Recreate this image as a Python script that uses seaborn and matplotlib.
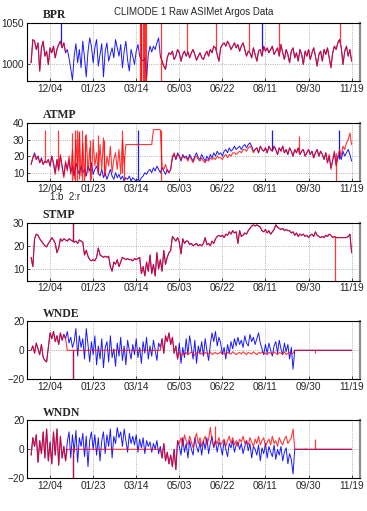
import numpy as np
import pandas as pd
import matplotlib
matplotlib.use('Agg')
import matplotlib.pyplot as plt
import matplotlib.dates as mdates
import seaborn as sns

# 2-day samples, 2005-11-12 .. 2006-11-19 (187 values)
dates = pd.date_range('2005-11-12', '2006-11-19', freq='2D')
nan = np.nan

bpr_blue = [
    1002, 1030, 1028, 1018, 1026, 992, 1020, 1028, 1010, 1016,
    1000, 1020, 1014, 1022, 1008, 1018, 1024, 1028, 1020, 1026,
    1014, 1018, 1008, 995, 981, 1010, 1025, 1002, 1018, 996,
    1028, 1008, 985, 1015, 1032, 1022, 1002, 1020, 1030, 998,
    1012, 1025, 985, 1016, 1026, 1004, 1012, 1020, 1008, 1030,
    1020, 1010, 1024, 996, 1016, 1028, 1005, 992, 1018, 1010,
    1000, 1016, 1024, 1010, 1006, 1004, 1008, 983, 1012, 1022,
    1015, 1022, 1018, 1026, 1032, 1010, 1004, 998, 994, 1008,
    1014, 1012, 1016, 1006, 1010, 1018, 1014, 1004, 1012, 1016,
    1010, 1015, 1008, 1014, 1018, 1012, 1005, 1010, 1014, 1008,
    1006, 1012, 1016, 1010, 1018, 1014, 1022, 1020, 1012, 1004,
    1020, 1024, 1026, 1022, 1028, 1024, 1018, 1022, 1026, 1020,
    1024, 1016, 1022, 1026, 1018, 1010, 1016, 1014, 1008, 1020,
    1012, 1004, 1016, 1018, 1010, 1022, 1016, 1020, 1014, 1018,
    1022, 1012, 1016, 1020, 1010, 1024, 1014, 1006, 1018, 1012,
    1002, 1016, 1020, 1008, 1014, 1004, 1018, 1012, 1000, 1016,
    1010, 1018, 1006, 1014, 1020, 1010, 998, 1012, 1016, 1004,
    1018, 1012, 1020, 1008, 996, 1014, 1022, 1018, 1026, 1030,
    1020, 1000, 1016, 1022, 1010, 1018, 1004,
]
# red BPR has no data between these dates
bpr_red_gap = ('2005-12-23', '2006-04-10')

atmp_blue = [
    15, 19, 22, 18, 20, 16, 19, 15, 17, 16,
    18, 14, 20, 16, 10, 18, 12, 20, 14, 8,
    16, 12, 18, 10, 14, 8, 16, 12, 9, 14,
    10, 12, 8, 14, 11, 16, 9, 12, 14, 10,
    8, 12, 7, 10, 6, 9, 12, 8, 6, 10,
    7, 9, 6, 8, 5, 7, 6, 8, 5, 7,
    6, 5, 6, 5, 7, 8, 10, 9, 11, 12,
    10, 13, 11, 14, 12, 10, 13, 11, 9, 12,
    10, 12, 19, 21, 18, 22, 20, 17, 21, 19,
    20, 18, 21, 19, 17, 20, 22, 19, 18, 21,
    19, 17, 20, 18, 21, 19, 22, 20, 23, 21,
    22, 20, 23, 24, 22, 25, 23, 24, 26, 24,
    25, 26, 24, 26, 27, 25, 27, 28, 26, 23,
    24, 25, 22, 26, 24, 23, 25, 22, 26, 24,
    23, 26, 24, 21, 25, 23, 26, 22, 24, 21,
    25, 23, 20, 24, 22, 25, 21, 23, 24, 20,
    22, 24, 21, 23, 19, 22, 24, 20, 23, 21,
    18, 22, 16, 20, 13, 17, 22, 15, 19, 21,
    18, 23, 20, 22, 24, 21, 17,
]
atmp_red = [
    15, 19, 21, 18, 20, 16, 18, 15, 17, 16,
    18, 14, 20, 15, 9, 18, 11, 21, 13, 7,
    17, 11, 20, 9, 24, 6, 30, 12, 34, 8,
    28, 5, 33, 10, 25, 6, 30, 14, 22, 9,
    27, 12, 31, 8, 20, 14, 26, 10, 18, 22,
    12, 24, 9, 30, 15, 27, 27, 27, 27, 27,
    27, 27, 27, 27, 27, 27, 27, 27, 27, 27,
    27, 36, 36, 36, 36, 36, 14, 12, 15, 11,
    10, 12, 20, 22, 18, 21, 20, 18, 20, 19,
    19, 17, 20, 18, 16, 19, 20, 18, 17, 19,
    17, 16, 18, 17, 19, 18, 19, 18, 20, 19,
    19, 18, 20, 21, 19, 21, 20, 22, 22, 21,
    22, 23, 22, 24, 24, 23, 25, 26, 25, 22,
    24, 25, 22, 26, 24, 23, 25, 22, 26, 24,
    23, 26, 24, 21, 25, 23, 26, 22, 24, 21,
    25, 23, 20, 24, 22, 25, 21, 23, 24, 20,
    22, 24, 21, 23, 19, 22, 24, 20, 23, 21,
    18, 22, 16, 21, 12, 18, 23, 14, 20, 24,
    20, 26, 24, 28, 30, 34, 27,
]

stmp_values = [
    15, 11, 23, 25, 24.5, 23, 22, 21, 20, 19.5,
    21, 22, 23.5, 22.5, 21, 17, 19, 23, 22, 23,
    22.5, 22, 23, 22.5, 22, 21.5, 22, 21, 22.5, 22,
    21.5, 16, 18, 15.5, 14, 13.5, 14, 13.5, 15, 19,
    16, 15.5, 15, 15.5, 15, 15.5, 11, 9, 13, 12,
    14, 11, 13, 15, 14.5, 14, 14.5, 14, 14, 13.5,
    14.5, 14, 14.5, 15, 8, 11, 7, 13, 9, 16,
    8, 12, 7, 17, 10, 14, 9, 18, 12, 15,
    17, 18, 24, 23, 22, 23.5, 21.5, 16.5, 23, 21,
    22, 22, 20.5, 21, 20, 20.5, 21, 20, 20.5, 20,
    21, 23.5, 20.5, 21, 20, 22, 21, 23, 24, 24.5,
    24, 24.5, 23.5, 25, 24.5, 26, 25, 26.5, 25.5, 26,
    21, 26.5, 24, 24.5, 25.5, 25, 26.5, 27.5, 28.5, 29,
    28.5, 29, 28.5, 28, 26.5, 26, 27, 25.5, 26.5, 25,
    26, 27, 29, 28, 27.5, 27, 27.5, 26.5, 27, 26.5,
    26.5, 25.5, 26, 24.5, 25.5, 24, 25, 24.5, 25, 24,
    24.5, 23.5, 24.5, 25, 24, 26, 24.5, 24, 23.5, 24,
    23.5, 24.5, 24, 25, 24.5, 23.5, 24, 23.5, 23.5, 23.5,
    23.5, 23.5, 23.5, 23.5, 24, 25, 17,
]

wnde_blue = [
    0, 3, -2, 5, 1, -3, 4, -5, -7, -8,
    2, 12, 8, 13, 6, 10, 4, 12, 7, 11,
    8, 13, 5, 9, 2, 6, 15, -4, 10, 2,
    8, -6, 15, 4, -8, 6, -3, 10, -10, 3,
    -6, 8, -12, 2, 6, -8, 10, -5, 1, -11,
    5, -4, 9, -7, 3, -10, 7, 0, -6, 4,
    -3, 8, -5, 2, -9, 6, -2, 9, -6, 3,
    -4, 7, 0, -7, 5, 2, 8, -2, 10, 6,
    12, 4, 9, -2, 3, -6, 5, -9, 2, -5,
    8, -3, 10, 2, -6, 7, -9, 3, -2, 6,
    -4, 8, 0, -7, 4, 12, 6, 13, 3, 9,
    5, -3, 2, -6, 4, -2, 6, 1, 8, 3,
    9, 4, 7, 2, 10, 5, 3, 11, 6, 9,
    4, 8, 12, 5, 1, -3, 4, -2, 5, 0,
    -4, 3, 6, -2, 7, 1, -3, 5, -1, 4,
    -6, 2, -13, 0, 0, 0, 0, 0, 0, 0,
] + [0] * 27
wnde_red = [
    0, 3, -2, 5, 1, -3, 4, -5, -7, -8,
    2, 12, 8, 13, 6, 10, 4, 12, 7, 11,
    8,
] + [0] * 55 + [
    8, -2, 10, 6,
    12, 4, 9, -2, 3, -6, -1, -4, -2, -3,
    -1.5, -3, -2, -1, -2.5, -3.5, -2, -1, -2.5, -2,
    -3, -1.5, -2, -2.5, -1, -3, -2, -1.5, -2.5, -2,
    -1, -2.5, -2, -3, -1.5, -2, -2.5, -1, -2, -3,
    -2, -1.5, -2.5, -1, -2, -3, -1.5, -2, -2.5, -1,
    -2, -3, -1.5, -2, -1, -2.5, -2, -3, -1.5, -2,
    -2.5, -1, -2, -3, -1.5, -2, -2.5, -1, -3, -2,
    -1.5, -2.5, -2,
] + [0] * 34

wndn_blue = [
    -4, 8, 2, 10, -9, 6, -3, 12, -6, 14,
    -8, 5, -10, 12, -4, 14, -11, 9, -6, 2,
    -8, 5, 12, -6, 10, -2, 13, -9, 8, 2,
    11, -5, 9, -12, 6, 12, 0, 10, -4, 8,
    -8, 6, 12, -3, 10, 2, 14, -6, 9, 4,
    15, 8, 12, 2, 14, 6, -2, 11, 4, 9,
    3, 10, -2, 7, 1, 8, -3, 6, 2, 5,
    -2, 4, 0, 6, -3, 2, -6, 4, -8, -2,
    -10, -4, -12, 0, -14, 6, 2, -4, 8, -2,
    4, -6, 6, 0, -4, 8, 2, -2, 5, -4,
    6, 0, 8, -3, 4, 9, 1, 6, -2, 5,
    2, -4, 6, 0, -5, 4, 1, 6, -2, 3,
    5, 0, 4, -3, 2, 6, -1, 4, -6, 2,
    0, -4, 3, -8, 1, -3, 4, -6, 2, -2,
    -5, 3, -7, 0, -4, 2, -8, -2, 1, -10,
    -3, -7, -17,
] + [0] * 34
wndn_red = [
    -4, 8, 2, 10, -9, 6, -3, 12, -6, 14,
    -8, 5, -10, 12, -4, 14, -11, 9, -6, 2,
    -8,
] + [0] * 55 + [
    -6, 4, -8, -2,
    -10, -4, -12, 0, -14, 6, 4, 8, 2, 10,
    6, 3, 9, 5, 1, 7, 11, 4, 8, 2,
    6, 9, 3, 7, 15, 5, 2, 6, 4, 8,
    3, 5, 7, 2, 6, 9, 4, 8, 3, 6,
    2, 7, 5, 9, 4, 6, 3, 8, 5, 2,
    7, 4, 9, 3, 6, 8, 2, 5, 7, 3,
    9, 4, 6, 2, 8, 5, 3, 7, 9, 4,
    6, 8, 14,
] + [0] * 34

# short spikes: (date, low, high)
bpr_blue_spikes = [('2005-12-17', 1024, 1050), ('2006-08-07', 1018, 1050)]
bpr_red_spikes = [('2006-03-18', 980, 1050), ('2006-03-19', 980, 1050), ('2006-03-20', 980, 1050),
                  ('2006-03-22', 980, 1050), ('2006-03-23', 980, 1050), ('2006-03-24', 980, 1050),
                  ('2006-03-25', 980, 1050), ('2006-04-12', 980, 1050), ('2006-05-12', 1014, 1050),
                  ('2006-06-15', 1018, 1050), ('2006-07-23', 1016, 1050), ('2006-08-27', 1016, 1050),
                  ('2006-11-06', 1026, 1050)]
atmp_blue_spikes = [('2006-03-16', 6, 36), ('2006-08-19', 24, 36), ('2006-11-04', 18, 36)]
atmp_red_spikes = [('2005-11-28', 17, 36), ('2005-12-13', 14, 36), ('2005-12-30', 5, 34),
                   ('2006-01-02', 5, 36), ('2006-01-04', 5, 36), ('2006-01-07', 6, 35),
                   ('2006-01-10', 5, 36), ('2006-01-14', 8, 33), ('2006-01-19', 5, 30),
                   ('2006-01-29', 10, 33), ('2006-02-05', 8, 30), ('2006-02-26', 10, 36),
                   ('2006-02-28', 5, 20), ('2006-04-12', 5, 36), ('2006-09-19', 22, 32),
                   ('2006-11-01', 5, 22)]
stmp_blue_spikes = [('2005-12-31', 22, 30)]
stmp_red_spikes = [('2005-12-31', 22, 30), ('2006-10-31', 5, 24)]
wnde_blue_spikes = [('2005-12-31', -20, 0)]
wnde_red_spikes = [('2005-12-31', -20, 0), ('2006-10-07', -2, 0)]
wndn_blue_spikes = [('2005-12-31', -20, 0)]
wndn_red_spikes = [('2005-12-31', -20, 0), ('2006-06-14', 5, 16), ('2006-09-26', 0, 1),
                   ('2006-10-07', 0, 7)]

x_ticks = pd.date_range('2005-12-04', periods=8, freq='50D')

sns.set_style('ticks')
plt.rcParams['font.family'] = ['Liberation Sans', 'DejaVu Sans']

BLUE = '#0000ff'
RED = '#ff0000'


def draw_series(ax, values, color, spikes, alpha, lw):
    df = pd.DataFrame({'date': dates, 'value': np.asarray(values, dtype=float)})
    df['seg'] = df['value'].isna().cumsum()
    df = df.dropna()
    sns.lineplot(data=df, x='date', y='value', units='seg', estimator=None,
                 color=color, lw=lw, alpha=alpha, ax=ax)
    if spikes:
        ax.vlines(pd.to_datetime([s[0] for s in spikes]), [s[1] for s in spikes],
                  [s[2] for s in spikes], color=color, lw=0.9, alpha=alpha)


bpr_red = pd.Series(bpr_blue, index=dates, dtype=float)
bpr_red[bpr_red_gap[0]:bpr_red_gap[1]] = nan

panels = [
    ('BPR', bpr_blue, bpr_red.values, bpr_blue_spikes, bpr_red_spikes, (980, 1050), [1000, 1050], 0.8415),
    ('ATMP', atmp_blue, atmp_red, atmp_blue_spikes, atmp_red_spikes, (5, 40), [10, 20, 30, 40], 0.6458),
    ('STMP', stmp_values, stmp_values, stmp_blue_spikes, stmp_red_spikes, (5, 30), [10, 20, 30], 0.4510),
    ('WNDE', wnde_blue, wnde_red, wnde_blue_spikes, wnde_red_spikes, (-20, 20), [-20, 0, 20], 0.2577),
    ('WNDN', wndn_blue, wndn_red, wndn_blue_spikes, wndn_red_spikes, (-20, 20), [-20, 0, 20], 0.0640),
]

fig = plt.figure(figsize=(3.67, 5.11), dpi=100)
for name, blue, red, bsp, rsp, ylim, yticks, bottom in panels:
    ax = fig.add_axes([0.0736, bottom, 0.907, 0.1135])
    draw_series(ax, blue, BLUE, bsp, 0.9, 0.7)
    draw_series(ax, red, RED, rsp, 0.78, 0.8)
    ax.set_xlim(pd.Timestamp('2005-11-07 06:00'), pd.Timestamp('2006-11-28 14:00'))
    ax.set_ylim(*ylim)
    ax.set_yticks(yticks)
    ax.set_xticks(x_ticks)
    ax.xaxis.set_major_formatter(mdates.DateFormatter('%m/%d'))
    ax.set_xlabel('')
    ax.set_ylabel('')
    ax.grid(True, linestyle=':', color='0.6', lw=0.6)
    ax.tick_params(direction='in', length=2, labelsize=7.3, pad=2, width=0.6)
    for side in ['left', 'top', 'bottom']:
        ax.spines[side].set_linewidth(0.8)
        ax.spines[side].set_color('black')
    ax.spines['right'].set_color('0.55')
    ax.spines['right'].set_linewidth(1.6)
    ax.text(0.047, 1.03, name, transform=ax.transAxes, va='bottom', ha='left',
            fontsize=8.5, fontweight='bold', family=['Liberation Serif', 'DejaVu Serif'])

fig.text(0.527, 0.977, 'CLIMODE 1 Raw ASIMet Argos Data', ha='center', va='center', fontsize=7)
fig.text(50 / 367, 1 - 197 / 511, '1:b  2:r', ha='left', va='center', fontsize=7)

fig.savefig('out.png', dpi=100)
